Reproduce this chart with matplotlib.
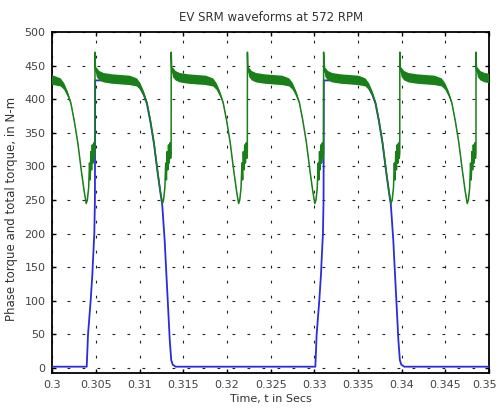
import numpy as np
import matplotlib
matplotlib.use("Agg")
import matplotlib.pyplot as plt
import matplotlib.transforms as mtransforms

plt.rcParams['font.family'] = ['DejaVu Sans']

# ---------------- data ----------------
title = "EV SRM waveforms at 572 RPM"
xlabel = "Time, t in Secs"
ylabel = "Phase torque and total torque, in N-m"

x_ticks = [0.3, 0.305, 0.31, 0.315, 0.32, 0.325, 0.33, 0.335, 0.34, 0.345, 0.35]
x_tick_labels = ["0.3", "0.305", "0.31", "0.315", "0.32", "0.325", "0.33",
                 "0.335", "0.34", "0.345", "0.35"]
y_ticks = [0, 50, 100, 150, 200, 250, 300, 350, 400, 450, 500]

# times (s) of the commutation spikes of the total torque
total_spike_t = [0.29614, 0.30487, 0.31360, 0.32233, 0.33106, 0.33979, 0.34852]
# one stroke of total torque: offset after spike (ms), value (N-m), ripple half-width
total_off_ms = [0.00, 0.05, 0.20, 0.50, 1.00, 2.00, 3.00, 4.00, 4.80, 5.20, 5.60,
                5.95, 6.35, 6.75, 7.20, 7.50, 7.72, 7.85, 8.00, 8.10, 8.18, 8.26,
                8.34, 8.42, 8.50, 8.58, 8.66, 8.72]
total_val = [470, 446, 440, 435, 432, 430, 429, 428, 425, 419, 408,
             395, 368, 336, 290, 262, 245, 250, 268, 305, 280, 322,
             295, 332, 305, 335, 312, 320]
total_ripple = [0, 2, 7, 7, 7, 7, 7, 7, 6, 5, 4,
                2, 2, 2, 2, 2, 2, 2, 2, 2, 2, 2,
                2, 2, 2, 2, 2, 2]

# phase torque: turn-on spike times (s) and pulse shape
phase_on_t = [0.30487, 0.33106]
phase_off_ms = [-0.95, -0.80, -0.50, -0.30, -0.25, -0.08, -0.01, 0.02, 1.50, 4.80,
                5.20, 5.60, 5.95, 6.35, 6.75, 7.20, 7.50, 7.70, 7.98, 8.17,
                8.37, 8.56, 8.73, 8.90, 9.24]
phase_val = [2, 50, 100, 140, 155, 200, 250, 428, 428, 422,
             416, 406, 393, 366, 334, 288, 260, 243, 190, 141,
             91, 42, 12, 5, 2]
phase_base = 2
t_start, t_end = 0.3, 0.35

# ---------------- build series ----------------
g_t, g_v, g_r = [], [], []
for ts in total_spike_t:
    for o, v, r in zip(total_off_ms, total_val, total_ripple):
        g_t.append(ts + o / 1000.0)
        g_v.append(v)
        g_r.append(r)
g_t = np.array(g_t); g_v = np.array(g_v, float); g_r = np.array(g_r, float)

b_t, b_v = [t_start], [phase_base]
for ts in phase_on_t:
    for o, v in zip(phase_off_ms, phase_val):
        b_t.append(ts + o / 1000.0)
        b_v.append(v)
b_t.append(t_end); b_v.append(phase_base)

# ---------------- plot ----------------
fig = plt.figure(figsize=(4.99, 4.09), dpi=100)
ax = fig.add_axes([0.1052, 0.088, 0.8747, 0.8337])

green = '#198019'
blue = '#2c2cd8'

ax.plot(b_t, b_v, color=blue, lw=1.3, zorder=3)
ax.fill_between(g_t, g_v - g_r, g_v + g_r, color=green, lw=0, zorder=4)
ax.plot(g_t, g_v, color=green, lw=1.1, zorder=5)

ax.set_xlim(0.3, 0.35)
ax.set_ylim(-7.4, 500)
ax.set_xticks(x_ticks)
ax.set_xticklabels(x_tick_labels)
ax.set_yticks(y_ticks)

ax.grid(True, linestyle=(0, (2.5, 11)), color='#222222', linewidth=0.8)
ax.set_axisbelow(True)

for s in ax.spines.values():
    s.set_linewidth(1.3)
    s.set_color('black')
ax.tick_params(direction='in', top=True, right=True, length=3, width=1,
               labelsize=8, labelcolor='#444444', pad=5)

# keep the last x tick label inside the picture
last = ax.get_xticklabels()[-1]
last.set_transform(last.get_transform() +
                   mtransforms.ScaledTranslation(-4 / 100, 0, fig.dpi_scale_trans))

ax.set_title(title, fontsize=8.5, color='#333333', pad=8)
ax.set_xlabel(xlabel, fontsize=8, color='#333333', labelpad=3)
ax.set_ylabel(ylabel, fontsize=8.5, color='#333333')
ax.yaxis.set_label_coords(-0.078, 0.48)

fig.savefig("out.png", dpi=100)
